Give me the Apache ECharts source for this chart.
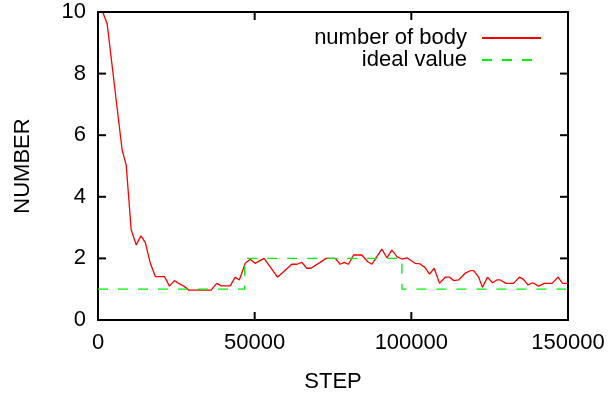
<!DOCTYPE html>
<html>
<head>
<meta charset="utf-8">
<script src="https://cdn.jsdelivr.net/npm/echarts@6/dist/echarts.min.js"></script>
<style>
  html, body { margin: 0; padding: 0; background: #fff; }
  #chart { width: 614px; height: 394px; }
</style>
</head>
<body>
<div id="chart"></div>
<script>
// simulation steps and the measured number of bodies
const steps = [
  0, 1500, 2900, 7700, 9000, 10600, 12200, 13700, 15100, 16700,
  18300, 21200, 22800, 24400, 25700, 27400, 29000, 36100, 37900, 39300,
  42200, 43800, 45100, 47000, 48600, 50100, 53000, 57300, 61850, 63450,
  65050, 66650, 67950, 70900, 72800, 75700, 77300, 78600, 79950, 81550,
  84200, 86100, 87400, 89000, 90600, 92200, 93800, 95400, 97000, 98600,
  101200, 102800, 104400, 105800, 107300, 109000, 110800, 112200, 113500, 115100,
  117200, 118800, 119900, 121500, 122700, 124300, 125900, 127300, 128400, 130200,
  132600, 134500, 135800, 137200, 138800, 140600, 142500, 144900, 146800, 148300,
  150000
];
const bodies = [
  10.6, 10.0, 9.63, 5.52, 5.03, 2.92, 2.44, 2.73, 2.51, 1.84,
  1.41, 1.41, 1.10, 1.28, 1.19, 1.10, 0.97, 0.97, 1.19, 1.11,
  1.11, 1.39, 1.30, 1.84, 1.97, 1.84, 2.00, 1.39, 1.81, 1.81,
  1.87, 1.68, 1.68, 1.87, 2.00, 2.00, 1.81, 1.87, 1.81, 2.11,
  2.11, 1.89, 1.81, 2.06, 2.30, 2.02, 2.27, 2.06, 1.98, 2.02,
  1.84, 1.82, 1.70, 1.49, 1.68, 1.19, 1.39, 1.39, 1.28, 1.30,
  1.52, 1.60, 1.60, 1.39, 1.06, 1.39, 1.21, 1.30, 1.30, 1.19,
  1.19, 1.39, 1.32, 1.14, 1.21, 1.10, 1.19, 1.19, 1.39, 1.19,
  1.19
];

// ideal value (step function)
const idealSteps = [0, 46800, 46800, 97000, 97000, 150000];
const idealValues = [1, 1, 2, 2, 1, 1];

const xTicks = [0, 50000, 100000, 150000];
const yTicks = [0, 2, 4, 6, 8, 10];
const X_MIN = 0, X_MAX = 150000, Y_MIN = 0, Y_MAX = 10;

const FONT = "Liberation Sans";
const FS = 22;
const TICK = 8;

const chart = echarts.init(document.getElementById("chart"), null, { renderer: "canvas" });

function line() {
  return { show: true, onZero: false, lineStyle: { color: "#000", width: 2 } };
}
function txt() {
  return { fontFamily: FONT, fontSize: FS, color: "#000" };
}
// inward ticks drawn as thin rect symbols sitting on the frame
function tickSeries(data, size, offset) {
  return {
    type: "scatter",
    data: data,
    symbol: "rect",
    symbolSize: size,
    symbolOffset: offset,
    itemStyle: { color: "#000", opacity: 1 },
    silent: true,
    clip: false,
    z: 5
  };
}

chart.setOption({
  animation: false,
  backgroundColor: "#fff",
  tooltip: { show: false },
  grid: { left: 98, right: 46, top: 12, bottom: 74, outerBoundsMode: "none", containLabel: false },
  legend: {
    orient: "vertical",
    right: 72,
    top: 27,
    padding: 0,
    align: "right",
    itemWidth: 59,
    itemHeight: 10,
    itemGap: 0,
    itemStyle: { opacity: 0 },
    textStyle: { ...txt(), padding: [0, 10, 0, 0] },
    data: ["number of body", "ideal value"]
  },
  xAxis: [
    {
      type: "value",
      min: X_MIN, max: X_MAX, interval: 50000,
      name: "STEP",
      nameLocation: "middle",
      nameGap: 51,
      nameTextStyle: txt(),
      axisLine: line(),
      axisTick: { show: false },
      splitLine: { show: false },
      axisLabel: {
        margin: 12,
        ...txt(),
        customValues: xTicks,
        formatter: (v) => String(v)
      }
    },
    {
      type: "value",
      position: "top",
      min: X_MIN, max: X_MAX, interval: 50000,
      axisLine: line(),
      axisTick: { show: false },
      axisLabel: { show: false },
      splitLine: { show: false }
    }
  ],
  yAxis: [
    {
      type: "value",
      min: Y_MIN, max: Y_MAX, interval: 2,
      name: "NUMBER",
      nameLocation: "middle",
      nameGap: 64,
      nameTextStyle: txt(),
      axisLine: line(),
      axisTick: { show: false },
      splitLine: { show: false },
      axisLabel: {
        margin: 12,
        ...txt(),
        customValues: yTicks,
        formatter: (v) => String(v)
      }
    },
    {
      type: "value",
      position: "right",
      min: Y_MIN, max: Y_MAX, interval: 2,
      axisLine: line(),
      axisTick: { show: false },
      axisLabel: { show: false },
      splitLine: { show: false }
    }
  ],
  series: [
    {
      name: "number of body",
      type: "line",
      data: steps.map((s, i) => [s, bodies[i]]),
      symbol: "none",
      clip: true,
      lineStyle: { color: "#ff0000", width: 1.3 },
      itemStyle: { color: "#ff0000" }
    },
    {
      name: "ideal value",
      type: "line",
      data: idealSteps.map((s, i) => [s, idealValues[i]]),
      symbol: "none",
      clip: true,
      lineStyle: { color: "#00ee00", width: 1.3, type: [10, 10] },
      itemStyle: { color: "#00ee00" }
    },
    tickSeries(xTicks.map((v) => [v, Y_MIN]), [2, TICK], [0, -TICK / 2]),
    tickSeries(xTicks.map((v) => [v, Y_MAX]), [2, TICK], [0, TICK / 2]),
    tickSeries(yTicks.map((v) => [X_MIN, v]), [TICK, 2], [TICK / 2, 0]),
    tickSeries(yTicks.map((v) => [X_MAX, v]), [TICK, 2], [-TICK / 2, 0])
  ]
});
</script>
</body>
</html>
